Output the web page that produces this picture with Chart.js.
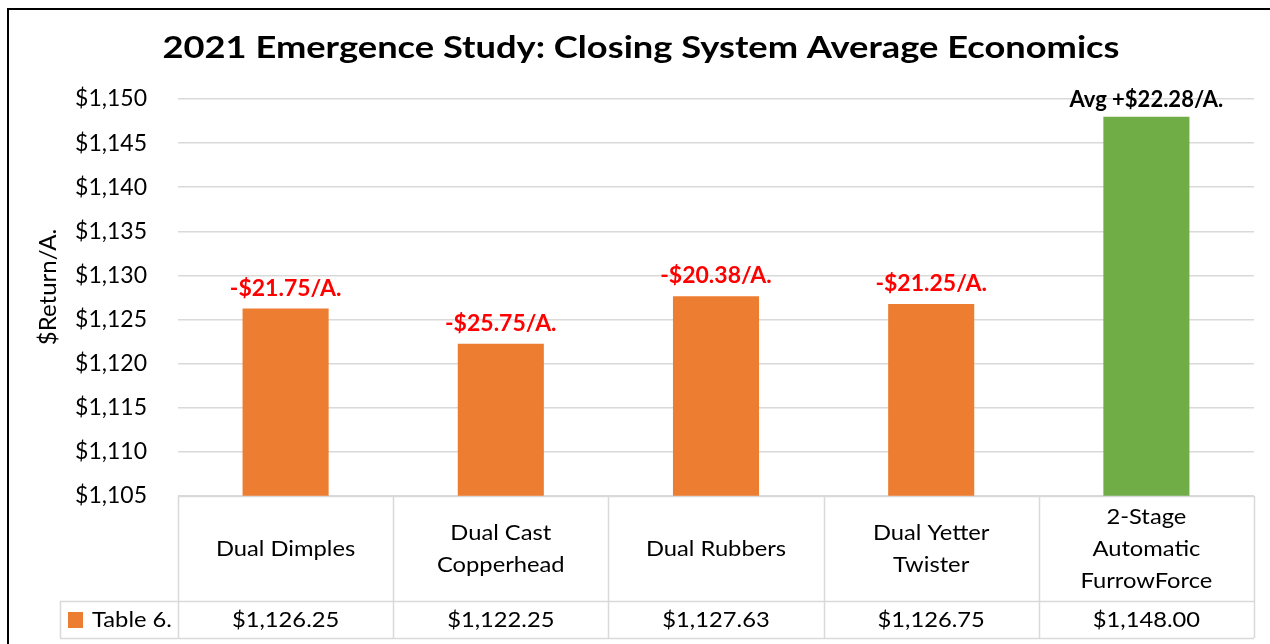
<!DOCTYPE html>
<html>
<head>
<meta charset="utf-8">
<script src="https://cdn.jsdelivr.net/npm/chart.js@4"></script>
<style>
  html, body { margin: 0; padding: 0; background: #fff; }
  #wrap { width: 1270px; height: 644px; }
</style>
</head>
<body>
<div id="wrap"><canvas id="closingChart" width="1270" height="644"></canvas></div>
<script>
// values
const categories = [
  ['Dual Dimples'],
  ['Dual Cast', 'Copperhead'],
  ['Dual Rubbers'],
  ['Dual Yetter', 'Twister'],
  ['2-Stage', 'Automatic', 'FurrowForce'],
];
const returns = [1126.25, 1122.25, 1127.63, 1126.75, 1148.0];
const diffLabels = ['-$21.75/A.', '-$25.75/A.', '-$20.38/A.', '-$21.25/A.', 'Avg +$22.28/A.'];
const seriesName = 'Table 6.';
const yMin = 1105;
const yMax = 1150;
const yStep = 5;

const ORANGE = '#ED7D31';
const GREEN = '#70AD47';
const GRID = '#D9D9D9';
const FONT = 'Lato, "Open Sans", sans-serif';

const barColors = returns.map((v, i) => (i === returns.length - 1 ? GREEN : ORANGE));
const labelColors = returns.map((v, i) => (i === returns.length - 1 ? '#000000' : '#FF0000'));

const money = (v, dec) =>
  '$' + v.toLocaleString('en-US', { minimumFractionDigits: dec, maximumFractionDigits: dec });

// text a bit wider than the font, like the reference
const wideText = (ctx, text, x, y, sx) => {
  ctx.save();
  ctx.translate(x, y);
  ctx.scale(sx, 1);
  ctx.fillText(text, 0, 0);
  ctx.restore();
};

// title, frame, value labels and the data table under the plot
const extrasPlugin = {
  id: 'extras',
  afterDraw(chart) {
    const ctx = chart.ctx;
    const area = chart.chartArea;
    const x = chart.scales.x;
    ctx.save();

    // black frame (top + left, the rest is cropped)
    ctx.strokeStyle = '#000';
    ctx.lineWidth = 2;
    ctx.beginPath();
    ctx.moveTo(8, 644);
    ctx.lineTo(8, 9);
    ctx.lineTo(1270, 9);
    ctx.stroke();

    // title
    ctx.fillStyle = '#000';
    ctx.font = 'bold 31px ' + FONT;
    ctx.textAlign = 'center';
    ctx.textBaseline = 'alphabetic';
    wideText(ctx, '2021 Emergence Study: Closing System Average Economics', 641, 58, 1.17);

    // y axis title
    ctx.save();
    ctx.translate(48, 287);
    ctx.rotate(-Math.PI / 2);
    ctx.font = '24px ' + FONT;
    ctx.textBaseline = 'middle';
    ctx.fillText('$Return/A.', 0, 0);
    ctx.restore();

    // labels above bars
    const meta = chart.getDatasetMeta(0);
    meta.data.forEach((bar, i) => {
      const last = i === returns.length - 1;
      ctx.font = 'bold ' + (last ? 22 : 23) + 'px ' + FONT;
      ctx.fillStyle = labelColors[i];
      ctx.fillText(diffLabels[i], bar.x, bar.y - (last ? 10 : 13));
    });

    // data table
    const colW = (area.right - area.left) / categories.length;
    const headTop = area.bottom;
    const rowTop = 601;
    const rowBottom = 638;
    const legendLeft = 60;

    ctx.strokeStyle = GRID;
    ctx.lineWidth = 1.5;
    ctx.beginPath();
    ctx.moveTo(area.left, headTop + 0.5);
    ctx.lineTo(area.right, headTop + 0.5);
    ctx.moveTo(legendLeft, rowTop + 0.5);
    ctx.lineTo(area.right, rowTop + 0.5);
    ctx.moveTo(legendLeft, rowBottom + 0.5);
    ctx.lineTo(area.right, rowBottom + 0.5);
    for (let i = 0; i <= categories.length; i++) {
      const lx = Math.round(area.left + i * colW) + 0.5;
      ctx.moveTo(lx, headTop);
      ctx.lineTo(lx, rowBottom);
    }
    ctx.moveTo(legendLeft + 0.5, rowTop);
    ctx.lineTo(legendLeft + 0.5, rowBottom);
    ctx.stroke();

    ctx.fillStyle = '#000';
    ctx.font = '21px ' + FONT;
    ctx.textAlign = 'center';
    ctx.textBaseline = 'middle';
    const headMid = (headTop + rowTop) / 2 + 1;
    const lh = 32;
    categories.forEach((lines, i) => {
      const cx = x.getPixelForValue(i);
      const start = headMid - ((lines.length - 1) * lh) / 2;
      lines.forEach((t, j) => wideText(ctx, t, cx, start + j * lh, 1.13));
      wideText(ctx, money(returns[i], 2), cx, (rowTop + rowBottom) / 2 + 1, 1.13);
    });

    // legend cell
    ctx.fillStyle = ORANGE;
    ctx.fillRect(68, 612, 15, 16);
    ctx.fillStyle = '#000';
    ctx.textAlign = 'left';
    wideText(ctx, seriesName, 92, (rowTop + rowBottom) / 2 + 1, 1.13);

    ctx.restore();
  },
};

new Chart(document.getElementById('closingChart'), {
  type: 'bar',
  data: {
    labels: categories,
    datasets: [
      {
        label: seriesName,
        data: returns,
        backgroundColor: barColors,
        barPercentage: 0.4,
        categoryPercentage: 1,
      },
    ],
  },
  options: {
    responsive: false,
    animation: false,
    devicePixelRatio: 1,
    layout: { padding: { top: 99, left: 30, right: 16, bottom: 0 } },
    plugins: {
      legend: { display: false },
      tooltip: { enabled: false },
      title: { display: false },
    },
    scales: {
      x: {
        ticks: { display: false },
        grid: { display: false },
        border: { display: false },
        afterFit: (scale) => { scale.height = 148; },
      },
      y: {
        min: yMin,
        max: yMax,
        ticks: {
          stepSize: yStep,
          padding: 31,
          color: '#000',
          font: { family: FONT, size: 23 },
          callback: (v) => money(v, 0),
        },
        grid: { color: GRID, lineWidth: 1.5, drawTicks: false },
        border: { display: false },
        afterFit: (scale) => { scale.width = 148; },
      },
    },
  },
  plugins: [extrasPlugin],
});
</script>
</body>
</html>
